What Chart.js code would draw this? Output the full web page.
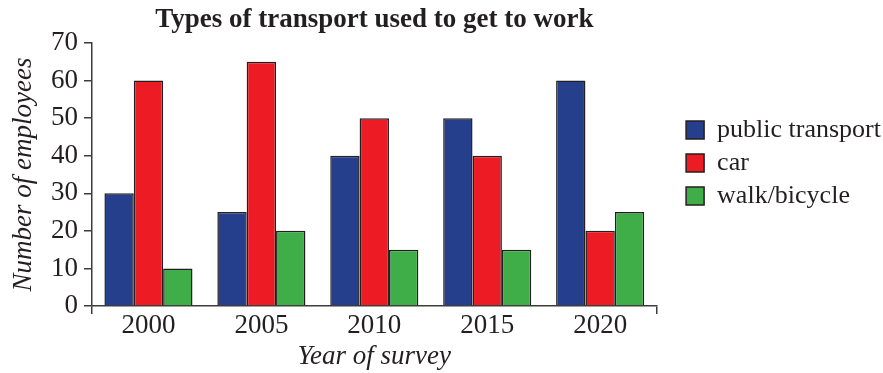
<!DOCTYPE html>
<html>
<head>
<meta charset="utf-8">
<script src="https://cdn.jsdelivr.net/npm/chart.js@4"></script>
<style>
  html, body { margin: 0; padding: 0; background: #ffffff; }
  #wrap { width: 883px; height: 373px; }
</style>
</head>
<body>
<div id="wrap"><canvas id="c" width="883" height="373"></canvas></div>
<script>
const years = ['2000', '2005', '2010', '2015', '2020'];
const publicTransport = [30, 25, 40, 50, 60];
const car = [60, 65, 50, 40, 20];
const walkBicycle = [10, 20, 15, 15, 25];
const seriesNames = ['public transport', 'car', 'walk/bicycle'];
const yTicksMin = 0, yTicksMax = 70, yStep = 10;

const FONT = "'Liberation Serif', 'Times New Roman', Times, serif";
const INK = '#231f20';
const AXIS = '#3c3c3c';

Chart.defaults.font.family = FONT;
Chart.defaults.color = INK;

new Chart(document.getElementById('c'), {
  type: 'bar',
  data: {
    labels: years,
    datasets: [
      { label: seriesNames[0], data: publicTransport, backgroundColor: '#253f8c', borderColor: INK, borderWidth: 1.5 },
      { label: seriesNames[1], data: car, backgroundColor: '#ed1c24', borderColor: INK, borderWidth: 1.5 },
      { label: seriesNames[2], data: walkBicycle, backgroundColor: '#3fae49', borderColor: INK, borderWidth: 1.5 }
    ]
  },
  options: {
    responsive: false,
    animation: false,
    devicePixelRatio: 1,
    layout: { padding: { left: 0, right: -8, top: 0, bottom: 0 } },
    datasets: { bar: { categoryPercentage: 0.78, barPercentage: 1.0 } },
    plugins: {
      tooltip: { enabled: false },
      title: {
        display: true,
        text: 'Types of transport used to get to work',
        fullSize: false,
        color: INK,
        font: { family: FONT, size: 27, weight: 'bold', lineHeight: 1.2 },
        padding: { top: 4, bottom: 6.6 }
      },
      legend: {
        position: 'right',
        align: 'start',
        fullSize: false,
        maxWidth: 320,
        title: { display: true, text: '', font: { size: 10, lineHeight: 1.2 }, padding: { top: 55, bottom: 0 } },
        labels: {
          color: INK,
          font: { family: FONT, size: 26 },
          boxWidth: 18,
          boxHeight: 18,
          padding: 7
        }
      }
    },
    scales: {
      x: {
        position: 'bottom',
        offset: true,
        grid: {
          display: true,
          drawOnChartArea: false,
          drawTicks: true,
          tickLength: 8,
          offset: true,
          lineWidth: 1.5,
          tickColor: (ctx) => (ctx.type !== 'tick' || ctx.index === 0) ? AXIS : 'rgba(0,0,0,0)'
        },
        border: { display: true, color: AXIS, width: 1.5 },
        ticks: { color: INK, font: { family: FONT, size: 27, lineHeight: 1 }, padding: -1.5 },
        title: {
          display: true,
          text: 'Year of survey',
          color: INK,
          font: { family: FONT, size: 27, style: 'italic', lineHeight: 1.2 },
          padding: { top: 2.6, bottom: 0 }
        }
      },
      y: {
        position: 'left',
        min: yTicksMin,
        max: yTicksMax,
        grid: {
          display: true,
          drawOnChartArea: false,
          drawTicks: true,
          tickLength: 8,
          lineWidth: 1.5,
          tickColor: AXIS
        },
        border: { display: true, color: AXIS, width: 1.5 },
        ticks: { stepSize: yStep, color: INK, font: { family: FONT, size: 27, lineHeight: 1.2 }, padding: 6 },
        title: {
          display: true,
          text: 'Number of employees',
          color: INK,
          font: { family: FONT, size: 27, style: 'italic', lineHeight: 1.2 },
          padding: { top: 7.8, bottom: 4.8 }
        }
      },
      gap: {
        type: 'linear',
        position: 'right',
        display: true,
        grid: { display: false, drawTicks: false },
        border: { display: false },
        ticks: { display: false },
        afterFit: (scale) => { scale.width = 22.5; }
      }
    }
  }
});
</script>
</body>
</html>
